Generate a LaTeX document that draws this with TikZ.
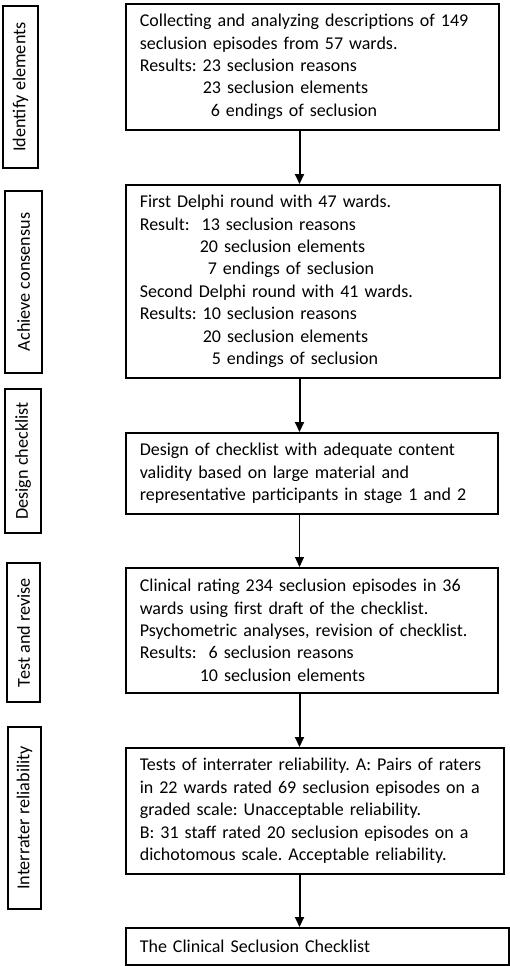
\documentclass[tikz,border=0pt]{standalone}
\usepackage{fontspec}
\setmainfont{Carlito}
\usetikzlibrary{arrows.meta}
\frenchspacing

\begin{document}
\begin{tikzpicture}[x=1pt,y=-1pt,
  stagebox/.style={draw,line width=1.6pt,anchor=north west,align=left,
    inner xsep=14pt,inner ysep=0pt,font=\fontsize{18}{22.4}\selectfont},
  sidebox/.style={draw,line width=1.6pt,rotate=90,inner sep=0pt,
    font=\fontsize{18.2}{22.4}\selectfont},
  flow/.style={-{Triangle[length=10pt,width=9pt]},line width=2pt},
  thinflow/.style={-{Triangle[length=10pt,width=9pt]},line width=1pt}]

% Fix the page size
\useasboundingbox (0,0) rectangle (510,966);

%
% Draw the stage labels on the left
%
\node[sidebox,minimum width=162pt,minimum height=35pt] (identify) at (20.5,87) {Identify elements};
\node[sidebox,minimum width=182pt,minimum height=37pt] (consensus) at (23.5,282) {Achieve consensus};
\node[sidebox,minimum width=144pt,minimum height=36pt] (design) at (23,461) {Design checklist};
\node[sidebox,minimum width=139pt,minimum height=33pt] (testrev) at (23.5,632.5) {Test and revise};
\node[sidebox,minimum width=182pt,minimum height=33pt] (interrater) at (24.5,818) {Interrater reliability};

%
% Draw the boxes of the flow
%
\node[stagebox,text width=345pt,minimum height=126pt] (collect) at (125,3) {%
  Collecting and analyzing descriptions of 149\\
  seclusion episodes from 57 wards.\\
  Results: 23 seclusion reasons\\
  \hspace*{63pt}23 seclusion elements\\
  \hspace*{71pt}6 endings of seclusion};

\node[stagebox,text width=346pt,minimum height=193pt] (delphi) at (125,184) {%
  First Delphi round with 47 wards.\\
  Result:\ \ 13 seclusion reasons\\
  \hspace*{60pt}20 seclusion elements\\
  \hspace*{68pt}7 endings of seclusion\\
  Second Delphi round with 41 wards.\\
  Results: 10 seclusion reasons\\
  \hspace*{63pt}20 seclusion elements\\
  \hspace*{72pt}5 endings of seclusion};

\node[stagebox,text width=344pt,minimum height=81pt] (checklist) at (125,432) {%
  Design of checklist with adequate content\\
  validity based on large material and\\
  representative participants in stage 1 and 2};

\node[stagebox,text width=344pt,minimum height=125pt] (rating) at (125,567) {%
  Clinical rating 234 seclusion episodes in 36\\
  wards using first draft of the checklist.\\
  Psychometric analyses, revision of checklist.\\
  Results:\ \ 6 seclusion reasons\\
  \hspace*{60pt}10 seclusion elements};

\node[stagebox,text width=350pt,minimum height=126pt] (tests) at (125,747) {%
  Tests of interrater reliability. A: Pairs of raters\\
  in 22 wards rated 69 seclusion episodes on a\\
  graded scale: Unacceptable reliability.\\
  B: 31 staff rated 20 seclusion episodes on a\\
  dichotomous scale. Acceptable reliability.};

\node[stagebox,text width=355pt,minimum height=37pt] (final) at (125,927) {%
  The Clinical Seclusion Checklist};

%
% Draw the arrows between the boxes
%
\coordinate (axis) at (299.5,0);
\draw[flow] (collect.south -| axis) -- (delphi.north -| axis);
\draw[flow] (delphi.south -| axis) -- (checklist.north -| axis);
\draw[thinflow] (checklist.south -| axis) -- (rating.north -| axis);
\draw[flow] (rating.south -| axis) -- (tests.north -| axis);
\draw[flow] (tests.south -| axis) -- (final.north -| axis);

\end{tikzpicture}
\end{document}
